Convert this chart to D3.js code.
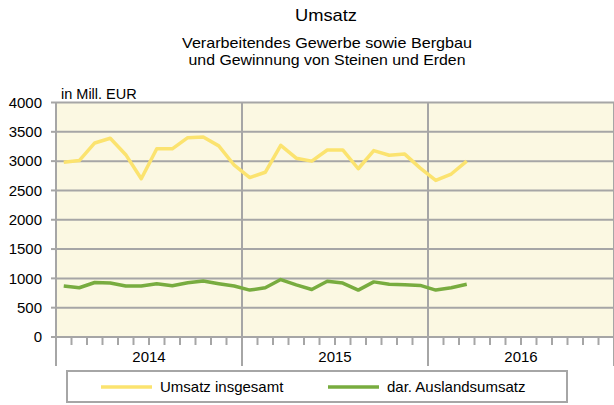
<!DOCTYPE html>
<html>
<head>
<meta charset="utf-8">
<script src="https://cdn.jsdelivr.net/npm/d3@7"></script>
<style>
  body { margin: 0; background: #fff; }
  svg { display: block; font-family: "Liberation Sans", Arial, sans-serif; }
</style>
</head>
<body>
<div class="chart"></div>
<script>
// Data: monthly values Jan 2014 .. Mar 2016
const years = ["2014", "2015", "2016"]
const umsatz = [2980, 3010, 3310, 3390, 3110, 2700, 3210, 3210, 3400, 3410, 3260, 2930,
                2720, 2810, 3270, 3050, 3000, 3190, 3190, 2870, 3180, 3100, 3120, 2880,
                2670, 2780, 3000]
const ausland = [870, 840, 930, 920, 870, 870, 910, 875, 925, 955, 910, 870,
                 800, 840, 980, 890, 810, 950, 920, 800, 940, 900, 890, 880,
                 800, 840, 900]
const yTicks = [0, 500, 1000, 1500, 2000, 2500, 3000, 3500, 4000]
const series = [
  {name: "Umsatz insgesamt", values: umsatz, color: "#FBE36F"},
  {name: "dar. Auslandsumsatz", values: ausland, color: "#78AC3F"}
]

const width = 614
const height = 405
const margin = {top: 102.5, right: 0, bottom: 68, left: 56}

const svg = d3.select(".chart").append("svg")
    .attr("width", width)
    .attr("height", height)

const x = d3.scaleLinear()
    .domain([0, 36])
    .range([margin.left, margin.left + 558])
const y = d3.scaleLinear()
    .domain([0, 4000])
    .range([height - margin.bottom, margin.top])

// plot background
svg.append("rect")
    .attr("x", x(0)).attr("y", y(4000))
    .attr("width", x(36) - x(0)).attr("height", y(0) - y(4000))
    .attr("fill", "#FBF8E2")

// horizontal grid
svg.append("g")
    .selectAll("line")
    .data(yTicks.filter(d => d > 0))
    .join("line")
    .attr("x1", x(0)).attr("x2", x(36))
    .attr("y1", d => y(d)).attr("y2", d => y(d))
    .attr("stroke", "#A6A6A6")
    .attr("stroke-width", 2)

// year separators (extend below axis)
svg.append("g")
    .selectAll("line")
    .data([0, 12, 24, 36])
    .join("line")
    .attr("x1", d => x(d)).attr("x2", d => x(d))
    .attr("y1", y(4000)).attr("y2", y(0) + 29)
    .attr("stroke", "#A6A6A6")
    .attr("stroke-width", 2)

// month ticks
svg.append("g")
    .selectAll("line")
    .data(d3.range(1, 36).filter(d => d % 12 !== 0))
    .join("line")
    .attr("x1", d => x(d)).attr("x2", d => x(d))
    .attr("y1", y(0)).attr("y2", y(0) + 8)
    .attr("stroke", "#A6A6A6")
    .attr("stroke-width", 2)

// x axis line
svg.append("line")
    .attr("x1", x(0) - 5).attr("x2", x(36))
    .attr("y1", y(0)).attr("y2", y(0))
    .attr("stroke", "#A6A6A6")
    .attr("stroke-width", 2)

// y tick marks + labels
const yAxis = svg.append("g")
yAxis.selectAll("line")
    .data(yTicks)
    .join("line")
    .attr("x1", x(0) - 5).attr("x2", x(0))
    .attr("y1", d => y(d)).attr("y2", d => y(d))
    .attr("stroke", "#A6A6A6")
    .attr("stroke-width", 2)
yAxis.selectAll("text")
    .data(yTicks)
    .join("text")
    .attr("x", x(0) - 14)
    .attr("y", d => y(d))
    .attr("dy", "0.35em")
    .attr("text-anchor", "end")
    .attr("font-size", 15)
    .attr("fill", "#000")
    .text(d => d)

// year labels
svg.append("g")
    .selectAll("text")
    .data(years)
    .join("text")
    .attr("x", (d, i) => x(i * 12 + 6))
    .attr("y", y(0) + 25)
    .attr("text-anchor", "middle")
    .attr("font-size", 15)
    .text(d => d)

// lines
const line = d3.line()
    .x((d, i) => x(i + 0.5))
    .y(d => y(d))
svg.append("g")
    .selectAll("path")
    .data(series)
    .join("path")
    .attr("d", d => line(d.values))
    .attr("fill", "none")
    .attr("stroke", d => d.color)
    .attr("stroke-width", 3.5)
    .attr("stroke-linejoin", "round")

// titles
svg.append("text")
    .attr("x", 326).attr("y", 21)
    .attr("text-anchor", "middle")
    .attr("font-size", 17)
    .attr("textLength", 62)
    .attr("lengthAdjust", "spacingAndGlyphs")
    .text("Umsatz")
svg.append("text")
    .attr("x", 327).attr("y", 48)
    .attr("text-anchor", "middle")
    .attr("font-size", 15)
    .attr("textLength", 290)
    .attr("lengthAdjust", "spacingAndGlyphs")
    .text("Verarbeitendes Gewerbe sowie Bergbau")
svg.append("text")
    .attr("x", 327).attr("y", 64.5)
    .attr("text-anchor", "middle")
    .attr("font-size", 15)
    .attr("textLength", 277)
    .attr("lengthAdjust", "spacingAndGlyphs")
    .text("und Gewinnung von Steinen und Erden")
svg.append("text")
    .attr("x", 61).attr("y", 99)
    .attr("font-size", 14.5)
    .text("in Mill. EUR")

// legend
svg.append("rect")
    .attr("x", 67).attr("y", 371)
    .attr("width", 500).attr("height", 31)
    .attr("fill", "#fff")
    .attr("stroke", "#A6A6A6")
    .attr("stroke-width", 2)
const legend = svg.append("g")
    .selectAll("g")
    .data(series)
    .join("g")
    .attr("transform", (d, i) => `translate(${i === 0 ? 101 : 328},387)`)
legend.append("line")
    .attr("x1", 0).attr("x2", 51)
    .attr("stroke", d => d.color)
    .attr("stroke-width", 3.5)
legend.append("text")
    .attr("x", 59)
    .attr("dy", "0.35em")
    .attr("font-size", 15)
    .text(d => d.name)
</script>
</body>
</html>
